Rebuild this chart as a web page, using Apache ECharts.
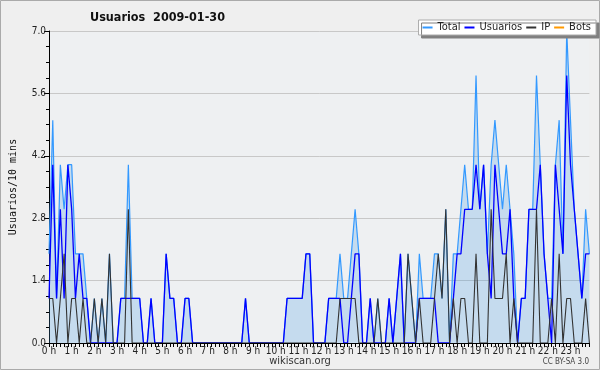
<!DOCTYPE html>
<html><head><meta charset="utf-8">
<script src="https://cdn.jsdelivr.net/npm/echarts@6/dist/echarts.min.js"></script>
<style>html,body{margin:0;padding:0;background:#efefef}#c{width:600px;height:370px}</style>
</head><body><div id="c"></div>
<script>
// Hour tick labels
const hourLabels = ['0 h','1 h','2 h','3 h','4 h','5 h','6 h','7 h','8 h','9 h','10 h','11 h','12 h','13 h','14 h','15 h','16 h','17 h','18 h','19 h','20 h','21 h','22 h','23 h'];
const yTicks = [0, 1.4, 2.8, 4.2, 5.6, 7.0];
// categories: 10-minute slots
const categories = [];
for (let h = 0; h < 24; h++) for (let m = 0; m < 60; m += 10) categories.push(h + ':' + (m < 10 ? '0' : '') + m);

const total = [
  2,5,1,4,3,4,4,2,2,2,1,0,
  1,0,1,0,2,0,0,1,1,4,1,1,
  1,0,0,1,0,0,0,2,1,1,0,0,
  1,1,0,0,0,0,0,0,0,0,0,0,
  0,0,0,0,1,0,0,0,0,0,0,0,
  0,0,0,1,1,1,1,1,2,2,0,0,
  0,0,1,1,1,2,1,1,2,3,2,0,
  0,1,0,1,0,0,1,0,1,2,0,2,
  1,0,2,1,1,1,2,2,1,3,0,2,
  2,3,4,3,3,6,3,4,2,4,5,4,
  3,4,3,2,0,1,1,3,3,6,4,2,
  1,1,4,5,2,7,5,3,2,1,3,2
];
const usuarios = [
  1,4,1,3,1,4,3,1,2,1,1,0,
  0,0,0,0,0,0,0,1,1,1,1,1,
  1,0,0,1,0,0,0,2,1,1,0,0,
  1,1,0,0,0,0,0,0,0,0,0,0,
  0,0,0,0,1,0,0,0,0,0,0,0,
  0,0,0,1,1,1,1,1,2,2,0,0,
  0,0,1,1,1,1,0,0,1,2,2,0,
  0,1,0,0,0,0,1,0,1,2,0,0,
  0,0,1,1,1,1,1,0,0,0,0,1,
  2,2,3,3,3,4,3,4,2,1,4,3,
  2,2,3,1,0,1,1,3,3,3,4,2,
  1,0,4,3,2,6,4,3,2,1,2,2
];
const ip = [
  1,1,0,1,2,0,1,1,0,1,0,0,
  1,0,1,0,2,0,0,0,0,3,0,0,
  0,0,0,0,0,0,0,0,0,0,0,0,
  0,0,0,0,0,0,0,0,0,0,0,0,
  0,0,0,0,0,0,0,0,0,0,0,0,
  0,0,0,0,0,0,0,0,0,0,0,0,
  0,0,0,0,0,1,1,1,1,1,0,0,
  0,0,0,1,0,0,0,0,0,0,0,2,
  1,0,1,0,0,0,1,2,1,3,0,1,
  0,1,1,0,0,2,0,0,0,3,1,1,
  1,2,0,1,0,0,0,0,0,3,0,0,
  0,1,0,2,0,1,1,0,0,0,1,0
];
const bots = [];

const chart = echarts.init(document.getElementById('c'), null, {renderer: 'canvas'});
const fontLbl = '"DejaVu Sans Condensed","DejaVu Sans",sans-serif';
chart.setOption({
  animation: false,
  backgroundColor: '#efefef',
  title: {
    text: 'Usuarios  2009-01-30', left: 85, top: 6,
    textStyle: {fontFamily: fontLbl, fontSize: 12.5, fontWeight: 'bold', color: '#111'}
  },
  legend: {
    right: 4, top: 20, itemGap: 4, itemWidth: 10, itemHeight: 2,
    padding: [2, 5, 2, 4],
    backgroundColor: '#fff', borderColor: '#aaa', borderWidth: 1,
    shadowColor: '#808080', shadowOffsetX: 3, shadowOffsetY: 3, shadowBlur: 0,
    icon: 'rect',
    textStyle: {fontFamily: fontLbl, fontSize: 11, color: '#222'},
    data: ['Total', 'Usuarios', 'IP', 'Bots']
  },
  grid: {left: 46, right: 10.6, top: 31, bottom: 27, show: true, backgroundColor: '#eef0f2', borderWidth: 0},
  xAxis: {
    type: 'category', data: categories, boundaryGap: false, z: 10,
    axisLine: {lineStyle: {color: '#000', width: 1}},
    axisTick: {interval: 0, length: 4, lineStyle: {color: '#000'}},
    axisLabel: {interval: 5, margin: 3, fontFamily: fontLbl, fontSize: 10, color: '#222',
      formatter: (v, idx) => hourLabels[Math.floor(idx / 6)]},
    splitLine: {show: false}
  },
  yAxis: {
    type: 'value', min: yTicks[0], max: yTicks[yTicks.length - 1], interval: 1.4,
    name: 'Usuarios/10 mins', nameLocation: 'middle', nameGap: 31,
    nameTextStyle: {fontFamily: '"DejaVu Sans Mono",monospace', fontSize: 10, color: '#111'},
    axisLine: {show: true, lineStyle: {color: '#000'}},
    axisTick: {show: true, length: 5, lineStyle: {color: '#000'}},
    minorTick: {show: true, splitNumber: 4, length: 3, lineStyle: {color: '#000'}},
    axisLabel: {margin: 3, fontFamily: fontLbl, fontSize: 10, color: '#222', formatter: v => v.toFixed(1)},
    splitLine: {lineStyle: {color: '#c8c8c8', width: 1}}
  },
  series: [
    {name: 'Total', type: 'line', data: total, symbol: 'none', z: 2,
     lineStyle: {color: '#3399ff', width: 1.2}, itemStyle: {color: '#3399ff'},
     areaStyle: {color: 'rgba(60,150,225,0.23)', opacity: 1}},
    {name: 'Usuarios', type: 'line', data: usuarios, symbol: 'none', z: 3,
     lineStyle: {color: '#0000ff', width: 1.3}, itemStyle: {color: '#0000ff'}},
    {name: 'IP', type: 'line', data: ip, symbol: 'none', z: 4,
     lineStyle: {color: '#333333', width: 1.1}, itemStyle: {color: '#333333'}},
    {name: 'Bots', type: 'line', data: bots, symbol: 'none', z: 5,
     lineStyle: {color: '#ff9900', width: 1.2}, itemStyle: {color: '#ff9900'}}
  ],
  graphic: [
    {type: 'rect', shape: {x: 0.5, y: 0.5, width: 599, height: 369}, style: {fill: 'none', stroke: '#aaa', lineWidth: 1}},
    {type: 'text', left: 'center', top: 356, style: {text: 'wikiscan.org', font: '11px ' + fontLbl, fill: '#333'}},
    {type: 'text', right: 11, top: 358, style: {text: 'CC BY-SA 3.0', font: '8px ' + fontLbl, fill: '#444'}}
  ]
});
</script></body></html>
